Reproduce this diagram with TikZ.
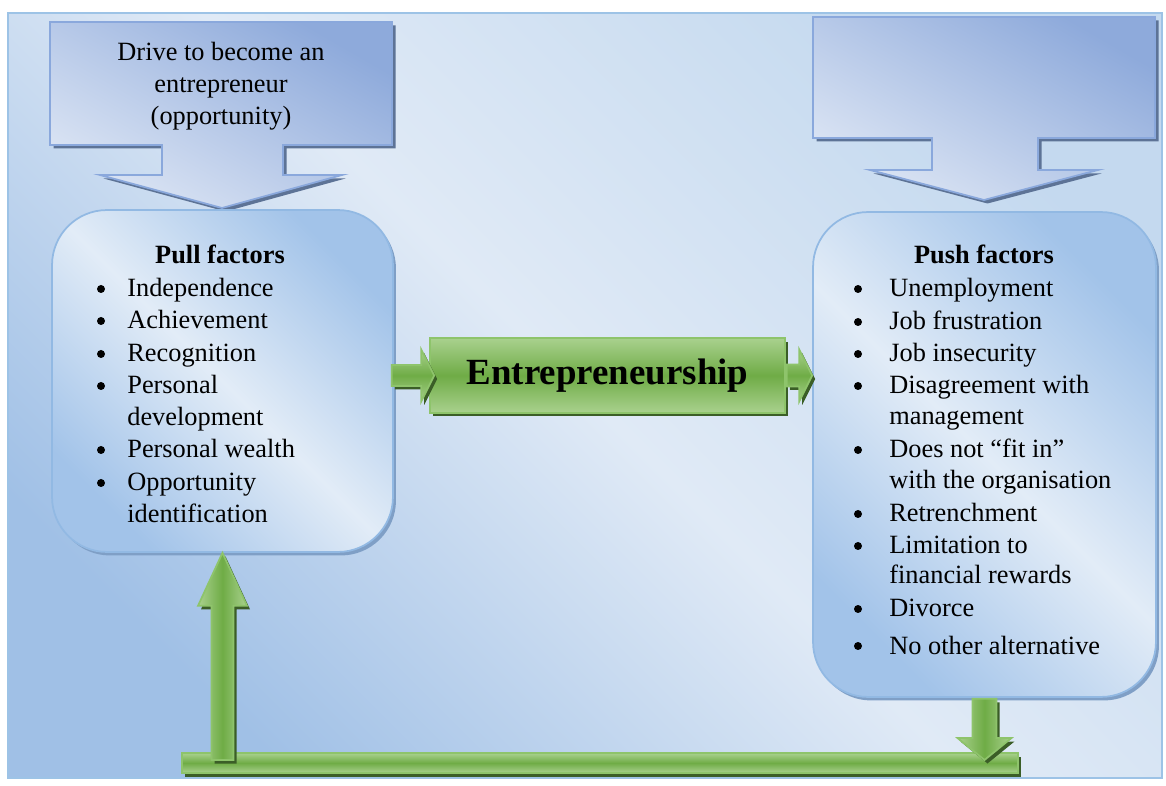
\documentclass[tikz,border=0pt]{standalone}
\usepackage{fontspec}
\setmainfont{Liberation Serif}
\usetikzlibrary{shadows,calc}

\definecolor{frameBlue}{HTML}{9DC3E6}
\definecolor{bgDark}{HTML}{A0C0E6}
\definecolor{bgLight}{HTML}{E0EAF6}
\definecolor{bgMid}{HTML}{C4D9EF}
\definecolor{calloutLight}{HTML}{DCE5F4}
\definecolor{calloutDark}{HTML}{8EAADB}
\definecolor{calloutBorder}{HTML}{8AA8DC}
\definecolor{calloutShadow}{HTML}{5D7396}
\definecolor{boxBorder}{HTML}{92B9E3}
\definecolor{boxDark}{HTML}{A2C3E9}
\definecolor{boxLight}{HTML}{E2ECF7}
\definecolor{boxShadow}{HTML}{7F9FC6}
\definecolor{greenLight}{HTML}{A9D18E}
\definecolor{greenMid}{HTML}{6FAC46}
\definecolor{greenBorder}{HTML}{8EC46B}
\definecolor{greenShadow}{HTML}{3B5E27}

\begin{document}
\begin{tikzpicture}
[x=0.02cm,y=-0.02cm,%
  bgFrame/.style={draw=frameBlue,line width=1.2pt,left color=bgMid,right color=bgDark,middle color=bgLight,shading angle=-45},%
  calloutShape/.style={draw=calloutBorder,line width=1pt,left color=calloutDark,right color=calloutLight,shading angle=-30,
    drop shadow={shadow xshift=0.07cm,shadow yshift=-0.07cm,fill=calloutShadow,opacity=1}},%
  factorBox/.style={draw=boxBorder,line width=1pt,rounded corners=1.1cm,inner sep=0pt,
    left color=boxDark,right color=boxDark,middle color=boxLight,shading angle=-45,
    drop shadow={shadow xshift=0.06cm,shadow yshift=-0.07cm,fill=boxShadow,opacity=1}},%
  greenBox/.style={draw=greenBorder,line width=1pt,inner sep=0pt,top color=greenLight,bottom color=greenLight,middle color=greenMid,
    drop shadow={shadow xshift=0.06cm,shadow yshift=-0.07cm,fill=greenShadow,opacity=1}},%
  greenUp/.style={draw=greenBorder,line width=1pt,left color=greenLight,right color=greenLight,middle color=greenMid,
    drop shadow={shadow xshift=0.06cm,shadow yshift=-0.07cm,fill=greenShadow,opacity=1}},%
  calloutText/.style={align=center,inner sep=0pt,font=\fontsize{15}{18.2}\selectfont},%
  titleText/.style={anchor=base,inner sep=0pt,font=\bfseries\fontsize{15}{18.2}\selectfont},%
  itemText/.style={anchor=base west,inner sep=0pt,font=\fontsize{15}{18.2}\selectfont},%
  bulletMark/.style={circle,fill=black,inner sep=0pt,minimum size=0.16cm}]
\useasboundingbox (0,0) rectangle (1166,786);
%% background
\path[bgFrame] (8,13) rectangle (1162,778);
%% callouts
\path[calloutShape] (50,22) -- (392,22) -- (392,145) -- (283,145) -- (283,175) -- (342,175)
  -- (222,208) -- (100,175) -- (162,175) -- (162,145) -- (50,145) -- cycle;
\path[calloutShape] (813,17) -- (1155,17) -- (1155,138) -- (1038,138) -- (1038,170) -- (1098,170)
  -- (984,200) -- (870,170) -- (932,170) -- (932,138) -- (813,138) -- cycle;
\node[calloutText] (drive) at (221,86) {Drive to become an\\entrepreneur\\(opportunity)};
%% bottom bar
\coordinate (barLeft) at (182,753);
\coordinate (barRight) at (1018,773);
\path[greenBox] (barLeft) rectangle (barRight);
%% boxes
\node[factorBox,minimum width=6.82cm,minimum height=6.84cm] (pull) at (222.5,381) {};
\node[factorBox,minimum width=6.86cm,minimum height=9.7cm] (push) at (984.5,454.5) {};
\node[greenBox,minimum width=7.1cm,minimum height=1.5cm,font=\bfseries\fontsize{21}{25}\selectfont]
  (entre) at (607.5,375.5) {Entrepreneurship};
%% arrows
\path[greenBox] ($(pull.east |- entre.west)+(-2,-10.5)$) -- ($(entre.west)+(-8,-10.5)$)
  -- ($(entre.west)+(-8,-26)$) -- ($(entre.west)+(5,0)$) -- ($(entre.west)+(-8,26)$)
  -- ($(entre.west)+(-8,10.5)$) -- ($(pull.east |- entre.west)+(-2,10.5)$) -- cycle;
\path[greenBox] ($(entre.east)+(1,-11)$) -- ($(push.west |- entre.east)+(-13,-11)$)
  -- ($(push.west |- entre.east)+(-13,-26)$) -- (push.west |- entre.east) -- ($(push.west |- entre.east)+(-13,26)$)
  -- ($(push.west |- entre.east)+(-13,11)$) -- ($(entre.east)+(1,11)$) -- cycle;
\path[greenUp] ($(pull.south |- barLeft)+(-11,7)$) -- ($(pull.south)+(-11,53)$)
  -- ($(pull.south)+(-24.5,53)$) -- (pull.south) -- ($(pull.south)+(24.5,53)$)
  -- ($(pull.south)+(11,53)$) -- ($(pull.south |- barLeft)+(11,7)$) -- cycle;
\path[greenUp] ($(push.south)+(-12,1)$) -- ($(push.south |- barLeft)+(-12,-15)$)
  -- ($(push.south |- barLeft)+(-27,-15)$) -- ($(push.south |- barLeft)+(0,7)$) -- ($(push.south |- barLeft)+(27,-15)$)
  -- ($(push.south |- barLeft)+(12,-15)$) -- ($(push.south)+(12,1)$) -- cycle;
%% pull factors
\node[titleText] (pullTitle) at (220,264) {Pull factors};
\foreach \y/\txt [count=\i] in {297/Independence, 329/Achievement, 362/Recognition,
  394/Personal, 426/development, 458/Personal wealth, 491/Opportunity, 523/identification}
{
  \node[itemText] (pullItem\i) at (127,\y) {\txt};
}
\foreach \y [count=\i] in {297,329,362,394,458,491}
{
  \node[bulletMark] (pullDot\i) at (101,\y-8) {};
}
%% push factors
\node[titleText] (pushTitle) at (984,264) {Push factors};
\foreach \y/\txt [count=\i] in {297/Unemployment, 330/Job frustration, 362/Job insecurity,
  394/Disagreement with, 425/management, 458/Does not ``fit in'', 489/with the organisation,
  522/Retrenchment, 554/Limitation to, 584/financial rewards, 617/Divorce, 654/No other alternative}
{
  \node[itemText] (pushItem\i) at (889,\y) {\txt};
}
\foreach \y [count=\i] in {297,330,362,394,458,522,554,617,654}
{
  \node[bulletMark] (pushDot\i) at (858,\y-8) {};
}
\end{tikzpicture}
\end{document}
